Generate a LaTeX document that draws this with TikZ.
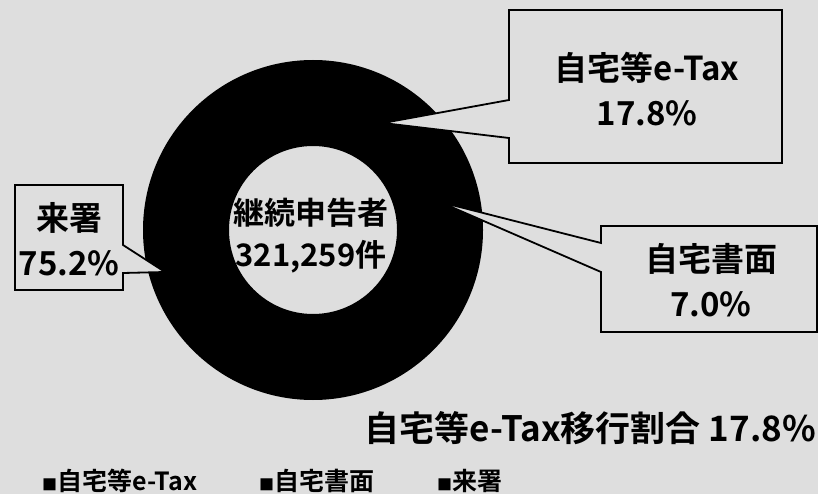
\documentclass[tikz,border=0pt]{standalone}
\usepackage{fontspec}
\setmainfont{Noto Sans CJK JP}[BoldFont={Noto Sans CJK JP Bold}]
\definecolor{stipple}{gray}{0.87}

\begin{document}
\begin{tikzpicture}[x=1pt,y=-1pt,
        callout/.style={draw=black, line width=1.8pt, line join=miter, fill=stipple},
        lab/.style={font=\bfseries\fontsize{33}{45}\selectfont, align=center},
        hole/.style={font=\bfseries\fontsize{31}{42}\selectfont, align=center},
        key/.style={font=\bfseries\fontsize{25}{28}\selectfont, anchor=base west, inner sep=0pt}]
            \useasboundingbox (0,0) rectangle (818,494);
            \fill[stipple] (0,0) rectangle (818,494);
            % donut
            \coordinate (c) at (313,230);
            \fill[black, even odd rule] (c) circle[radius=170pt] (c) circle[radius=84pt];
            \node[hole] (total) at (311,236) {継続申告者\\321,259件};
            % callouts
            \coordinate (etaxtip) at (383,123);
            \coordinate (papertip) at (440,202);
            \coordinate (officetip) at (165,272);
            \filldraw[callout] (509,10) -- (782,10) -- (782,163) -- (509,163) -- (509,138) -- (etaxtip) -- (509,100) -- cycle;
            \filldraw[callout] (601,226) -- (817,226) -- (817,332) -- (601,332) -- (601,272) -- (papertip) -- (601,243) -- cycle;
            \filldraw[callout] (15,185) -- (123,185) -- (123,245) -- (officetip) -- (123,273) -- (123,290) -- (15,290) -- cycle;
            \node[lab] (etax) at (647,89) {自宅等e-Tax\\17.8\%};
            \node[lab] (paper) at (711,280) {自宅書面\\7.0\%};
            \node[lab] (office) at (69,239) {来署\\75.2\%};
            % rate and legend
            \node[lab, font=\bfseries\fontsize{35}{45}\selectfont, anchor=base east, inner sep=0pt] (rate) at (816,441) {自宅等e-Tax移行割合 17.8\%};
            \node[key] (k1) at (42,490) {{\fontsize{15}{15}\selectfont ■}自宅等e-Tax};
            \node[key] (k2) at (259,490) {{\fontsize{15}{15}\selectfont ■}自宅書面};
            \node[key] (k3) at (437,490) {{\fontsize{15}{15}\selectfont ■}来署};
        \end{tikzpicture}
\end{document}
